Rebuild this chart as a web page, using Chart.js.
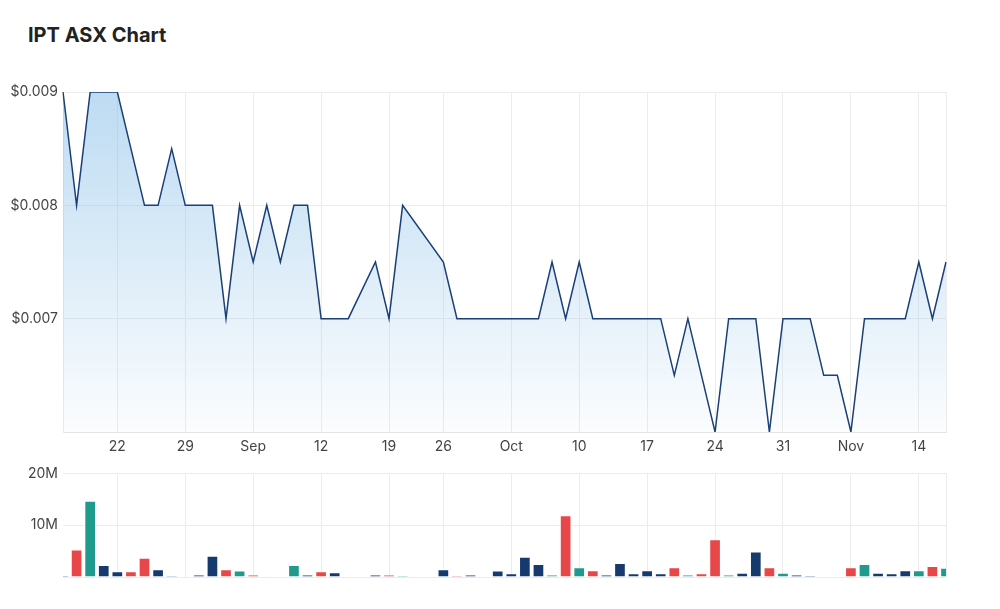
<!DOCTYPE html>
<html>
<head>
<meta charset="utf-8">
<script src="https://cdn.jsdelivr.net/npm/chart.js@4"></script>
<style>
    body { margin: 0; background: #fff; width: 1000px; height: 609px; overflow: hidden; }
    h1 { position: absolute; left: 28px; top: 23px; margin: 0; font: 700 20px Inter, sans-serif; color: #222; }
    #graficaPrecio { position: absolute; left: 0; top: 0; }
    #graficaVolumen { position: absolute; left: 0; top: 460px; }
</style>
</head>
<body>
<h1>IPT ASX Chart</h1>
<canvas id="graficaPrecio" width="1000" height="460"></canvas>
<canvas id="graficaVolumen" width="1000" height="149"></canvas>
<script>
// ── Datos ───────────────────────────────────────────────────────────────────
const fechas = [
    '2022-08-16', '2022-08-17', '2022-08-18', '2022-08-19', '2022-08-22', '2022-08-23',
    '2022-08-24', '2022-08-25', '2022-08-26', '2022-08-29', '2022-08-30', '2022-08-31',
    '2022-09-01', '2022-09-02', '2022-09-05', '2022-09-06', '2022-09-07', '2022-09-08',
    '2022-09-09', '2022-09-12', '2022-09-13', '2022-09-14', '2022-09-15', '2022-09-16',
    '2022-09-19', '2022-09-20', '2022-09-21', '2022-09-23', '2022-09-26', '2022-09-27',
    '2022-09-28', '2022-09-29', '2022-09-30', '2022-10-03', '2022-10-04', '2022-10-05',
    '2022-10-06', '2022-10-07', '2022-10-10', '2022-10-11', '2022-10-12', '2022-10-13',
    '2022-10-14', '2022-10-17', '2022-10-18', '2022-10-19', '2022-10-20', '2022-10-21',
    '2022-10-24', '2022-10-25', '2022-10-26', '2022-10-27', '2022-10-28', '2022-10-31',
    '2022-11-01', '2022-11-02', '2022-11-03', '2022-11-04', '2022-11-07', '2022-11-08',
    '2022-11-09', '2022-11-10', '2022-11-11', '2022-11-14', '2022-11-15', '2022-11-16',
];

// Precio de cierre ($); null = sin operación (la línea lo salta)
const precios = [
    0.009, 0.008, 0.009, 0.009, 0.009, 0.0085,
    0.008, 0.008, 0.0085, 0.008, 0.008, 0.008,
    0.007, 0.008, 0.0075, 0.008, 0.0075, 0.008,
    0.008, 0.007, 0.007, 0.007, null, 0.0075,
    0.007, 0.008, null, null, 0.0075, 0.007,
    0.007, 0.007, 0.007, 0.007, 0.007, 0.007,
    0.0075, 0.007, 0.0075, 0.007, 0.007, 0.007,
    0.007, 0.007, 0.007, 0.0065, 0.007, 0.0065,
    0.006, 0.007, 0.007, 0.007, 0.006, 0.007,
    0.007, 0.007, 0.0065, 0.0065, 0.006, 0.007,
    0.007, 0.007, 0.007, 0.0075, 0.007, 0.0075,
];

// Volumen en millones
const volumenes = [
    0.3, 5.3, 14.7, 2.3, 1.1, 1.1,
    3.7, 1.5, 0.3, 0.1, 0.5, 4.1,
    1.5, 1.25, 0.5, 0.1, 0.1, 2.3,
    0.5, 1.1, 0.9, 0.1, 0.1, 0.5,
    0.5, 0.25, 0.1, 0.1, 1.5, 0.25,
    0.5, 0.1, 1.25, 0.7, 3.9, 2.5,
    0.5, 11.9, 1.9, 1.3, 0.5, 2.7,
    0.7, 1.3, 0.7, 1.9, 0.5, 0.7,
    7.3, 0.5, 0.8, 4.9, 1.9, 0.8,
    0.5, 0.25, 0.1, 0.1, 1.9, 2.5,
    0.8, 0.7, 1.3, 1.3, 2.1, 1.8,
];

// Movimiento del día: 1 sube, -1 baja, 0 sin cambio
const movimientos = [
    0, -1, 1, 0, 0, -1,
    -1, 0, 1, -1, 0, 0,
    -1, 1, -1, 1, -1, 1,
    0, -1, 0, 0, 0, 0,
    -1, 1, 0, 0, 0, -1,
    0, 0, 0, 0, 0, 0,
    1, -1, 1, -1, 0, 0,
    0, 0, 0, -1, 1, -1,
    -1, 1, 0, 0, -1, 1,
    0, 0, -1, 0, -1, 1,
    0, 0, 0, 1, -1, 1,
];

const fechasEtiqueta = [
    '2022-08-22', '2022-08-29', '2022-09-05', '2022-09-12', '2022-09-19', '2022-09-26', '2022-10-03',
    '2022-10-10', '2022-10-17', '2022-10-24', '2022-10-31', '2022-11-07', '2022-11-14',
];
const etiquetasX = ['22', '29', 'Sep', '12', '19', '26', 'Oct', '10', '17', '24', '31', 'Nov', '14'];

// ── Estilo ──────────────────────────────────────────────────────────────────
const FUENTE = 'Inter, sans-serif';
const COLOR_REJILLA = '#ececec';
const colorMovimiento = { '1': '#219a8e', '-1': '#e84749', '0': '#163a6e' };

function etiquetaDe(i) {
    const k = fechasEtiqueta.indexOf(fechas[i]);
    return k >= 0 ? etiquetasX[k] : '';
}

function colorRejillaX(ctx) {
    const i = ctx.index;
    if (etiquetaDe(i) || i === fechas.length - 1) return COLOR_REJILLA;
    return 'rgba(0,0,0,0)';
}

Chart.defaults.font.family = FUENTE;
Chart.defaults.color = '#444';

// ── Gráfica de precio ───────────────────────────────────────────────────────
new Chart(document.getElementById('graficaPrecio'), {
    type: 'line',
    data: {
        labels: fechas,
        datasets: [{
            data: precios,
            borderColor: '#1b3f77',
            borderWidth: 1.5,
            pointRadius: 0,
            tension: 0,
            spanGaps: true,
            fill: 'start',
            backgroundColor: ctx => {
                const area = ctx.chart.chartArea;
                if (!area) return 'rgba(135,190,232,0.4)';
                const g = ctx.chart.ctx.createLinearGradient(0, area.top, 0, area.bottom);
                g.addColorStop(0, 'rgba(135, 190, 232, 0.55)');
                g.addColorStop(1, 'rgba(135, 190, 232, 0.03)');
                return g;
            },
        }],
    },
    options: {
        responsive: false,
        animation: false,
        layout: { padding: { top: 92, right: 54, left: 0, bottom: 0 } },
        plugins: { legend: { display: false }, tooltip: { enabled: false } },
        scales: {
            x: {
                type: 'category',
                offset: false,
                afterFit: s => { s.height = 28; },
                ticks: {
                    autoSkip: false,
                    maxRotation: 0,
                    padding: 6,
                    font: { size: 14 },
                    color: '#444',
                    callback: (v, i) => etiquetaDe(i),
                },
                grid: { color: colorRejillaX, drawTicks: false, offset: false },
                border: { color: '#e4e4e4' },
            },
            y: {
                min: 0.006,
                max: 0.009,
                afterFit: s => { s.width = 63; },
                ticks: {
                    stepSize: 0.001,
                    padding: 5,
                    font: { size: 14 },
                    color: '#444',
                    callback: v => (v > 0.0062 ? '$' + v.toFixed(3) : ''),
                },
                grid: { color: COLOR_REJILLA, drawTicks: false },
                border: { color: COLOR_REJILLA },
            },
        },
    },
});

// ── Gráfica de volumen ──────────────────────────────────────────────────────
new Chart(document.getElementById('graficaVolumen'), {
    type: 'bar',
    data: {
        labels: fechas,
        datasets: [{
            data: volumenes,
            backgroundColor: movimientos.map(m => colorMovimiento[String(m)]),
            borderColor: 'rgba(255,255,255,0.55)',
            borderWidth: 1,
            categoryPercentage: 1,
            barPercentage: 0.86,
            clip: 0,
        }],
    },
    options: {
        responsive: false,
        animation: false,
        layout: { padding: { top: 11, right: 54, left: 0, bottom: 0 } },
        plugins: { legend: { display: false }, tooltip: { enabled: false } },
        scales: {
            x: {
                type: 'category',
                offset: false,
                afterFit: s => { s.height = 32; },
                ticks: { display: false, autoSkip: false },
                grid: { color: colorRejillaX, drawTicks: false, offset: false },
                border: { display: false },
            },
            y: {
                min: 0,
                max: 20,
                afterFit: s => { s.width = 63; },
                ticks: {
                    stepSize: 10,
                    padding: 5,
                    font: { size: 14 },
                    color: '#444',
                    callback: v => (v ? v + 'M' : ''),
                },
                grid: { color: COLOR_REJILLA, drawTicks: false },
                border: { display: false },
            },
        },
    },
});
</script>
</body>
</html>
